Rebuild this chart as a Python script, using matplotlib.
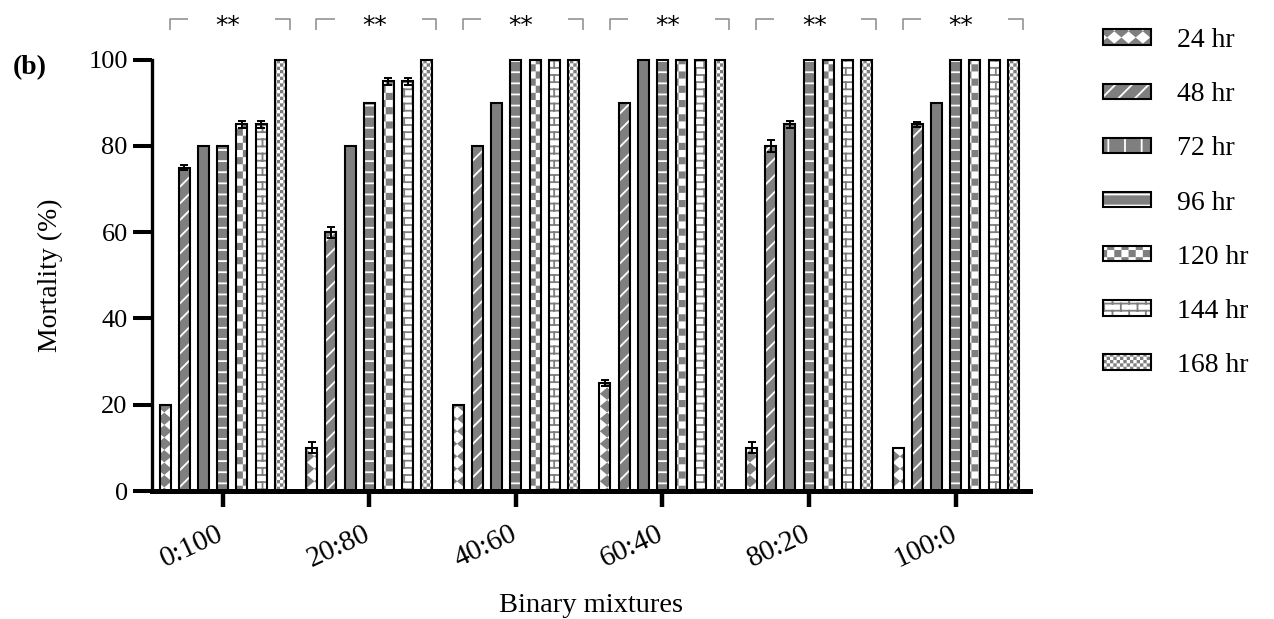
import warnings
import numpy as np
import matplotlib
matplotlib.use("Agg")
import matplotlib.pyplot as plt
from matplotlib import hatch as mhatch
from matplotlib.path import Path
from matplotlib.patches import Patch
from matplotlib.legend_handler import HandlerTuple
from matplotlib.transforms import ScaledTranslation

warnings.filterwarnings("ignore", message="hatch must consist")

# ---------------------------------------------------------------- data
groups = ["0:100", "20:80", "40:60", "60:40", "80:20", "100:0"]
times = ["24 hr", "48 hr", "72 hr", "96 hr", "120 hr", "144 hr", "168 hr"]

mort_24 = [20, 10, 20, 25, 10, 10]
mort_48 = [75, 60, 80, 90, 80, 85]
mort_72 = [80, 80, 90, 100, 85, 90]
mort_96 = [80, 90, 100, 100, 100, 100]
mort_120 = [85, 95, 100, 100, 100, 100]
mort_144 = [85, 95, 100, 100, 100, 100]
mort_168 = [100, 100, 100, 100, 100, 100]

err_24 = [0, 1.3, 0, 0.7, 1.3, 0]
err_48 = [0.5, 1.3, 0, 0, 1.3, 0.5]
err_72 = [0, 0, 0, 0, 0.8, 0]
err_96 = [0, 0, 0, 0, 0, 0]
err_120 = [0.8, 0.8, 0, 0, 0, 0]
err_144 = [0.8, 0.8, 0, 0, 0, 0]
err_168 = [0, 0, 0, 0, 0, 0]

significance = ["**", "**", "**", "**", "**", "**"]

series = [mort_24, mort_48, mort_72, mort_96, mort_120, mort_144, mort_168]
errors = [err_24, err_48, err_72, err_96, err_120, err_144, err_168]

# ---------------------------------------------------------------- fill patterns
DPI = 100
HATCH_LW = 1.3
plt.rcParams["hatch.linewidth"] = HATCH_LW
plt.rcParams["font.family"] = "Liberation Serif"
_INSET = HATCH_LW / 144.0  # half stroke width in hatch-tile units


class _ShapeHatch(mhatch.HatchPatternBase):
    key = ""

    def __init__(self, hatch, density):
        self.shapes = self.build() if (self.key and self.key in hatch) else []
        self.num_vertices = sum(len(p) for p, _ in self.shapes)

    def build(self):
        return []

    def set_vertices_and_codes(self, vertices, codes):
        i = 0
        for pts, closed in self.shapes:
            n = len(pts)
            vertices[i:i + n] = pts
            codes[i] = Path.MOVETO
            codes[i + 1:i + n] = Path.LINETO
            if closed:
                codes[i + n - 1] = Path.CLOSEPOLY
            i += n


class _Checker(_ShapeHatch):
    key = "c"
    n = 14

    def build(self):
        d, s = 1.0 / self.n, _INSET
        out = []
        for i in range(self.n):
            for j in range(self.n):
                if (i + j) % 2 == 0:
                    x0, y0 = i * d + s, j * d + s
                    x1, y1 = (i + 1) * d - s, (j + 1) * d - s
                    out.append(([(x0, y0), (x1, y0), (x1, y1), (x0, y1), (x0, y0)], True))
        return out


class _FineChecker(_Checker):
    key = "f"
    n = 30


class _Diamonds(_ShapeHatch):
    key = "d"
    nx, ny = 7, 8

    def build(self):
        hx = 0.5 / self.nx - 1.4 * _INSET
        hy = 0.5 / self.ny - 1.4 * _INSET
        out = []
        for i in range(self.nx):
            for j in range(self.ny):
                cx, cy = (i + 0.5) / self.nx, (j + 0.5) / self.ny
                out.append(([(cx - hx, cy), (cx, cy - hy), (cx + hx, cy),
                             (cx, cy + hy), (cx - hx, cy)], True))
        return out


class _Bricks(_ShapeHatch):
    key = "b"
    nx, ny = 6, 14

    def build(self):
        out = []
        for j in range(self.ny):
            y = (j + 0.5) / self.ny
            out.append(([(0.0, y), (1.0, y)], False))
            y_top = y + 1.0 / self.ny
            for i in range(self.nx):
                xv = (i + 0.25 + 0.5 * (j % 2)) / self.nx
                if y_top <= 1.0:
                    out.append(([(xv, y), (xv, y_top)], False))
                else:
                    out.append(([(xv, y), (xv, 1.0)], False))
                    out.append(([(xv, 0.0), (xv, y_top - 1.0)], False))
        return out


class _Rules(_ShapeHatch):
    key = "h"
    n = 9

    def build(self):
        return [([(0.0, (j + 0.5) / self.n), (1.0, (j + 0.5) / self.n)], False)
                for j in range(self.n)]


mhatch._hatch_types.extend([_Checker, _FineChecker, _Diamonds, _Bricks, _Rules])

GRAY = "#7f7f7f"
# (face colour, pattern colour, bar pattern, legend pattern)
styles = [
    ("white", GRAY, "d", "d"),
    (GRAY, "white", "//", "//"),
    (GRAY, "white", None, "|"),
    (GRAY, "white", "h", "h"),
    ("white", GRAY, "c", "c"),
    ("white", GRAY, "b", "b"),
    ("white", GRAY, "f", "f"),
]

# ---------------------------------------------------------------- figure
W, H = 1274, 619
fig = plt.figure(figsize=(W / DPI, H / DPI), dpi=DPI)
ax_left, ax_right, ax_top, ax_bottom = 152.3, 1030.0, 59.7, 491.0
ax = fig.add_axes([ax_left / W, 1 - ax_bottom / H,
                   (ax_right - ax_left) / W, (ax_bottom - ax_top) / H])

x = np.arange(len(groups))
pitch = 0.1308
width = 0.075
n_series = len(series)

for k, (vals, errs, st) in enumerate(zip(series, errors, styles)):
    fc, hc, hatch, _ = st
    xs = x + (k - (n_series - 1) / 2) * pitch
    vals = np.asarray(vals, dtype=float)
    errs = np.asarray(errs, dtype=float)
    ax.bar(xs, vals, width, color=fc, edgecolor=hc, hatch=hatch,
           linewidth=0, zorder=2, clip_on=False)
    ax.bar(xs, vals, width, facecolor="none", edgecolor="black",
           linewidth=1.5, zorder=2.5, clip_on=False)
    m = errs > 0
    if m.any():
        ax.errorbar(xs[m], vals[m], yerr=errs[m], fmt="none", ecolor="black",
                    elinewidth=1.4, capsize=2.6, capthick=1.4, zorder=3,
                    clip_on=False)

ax.set_xlim(-0.480, 5.507)
ax.set_ylim(0, 100)
ax.set_yticks([0, 20, 40, 60, 80, 100])

for side in ("top", "right"):
    ax.spines[side].set_visible(False)
ax.spines["left"].set_linewidth(2.4)
ax.spines["bottom"].set_linewidth(3.6)
ax.spines["left"].set_zorder(4)
ax.spines["bottom"].set_zorder(4)

ax.tick_params(axis="y", length=13.9, width=2.9, pad=3.8, labelsize=19)
ax.tick_params(axis="x", length=11.3, width=3.2, pad=10.0, labelsize=21)
ax.set_xticks(x, groups, rotation=25, ha="right", va="top",
              rotation_mode="anchor")
shift = ScaledTranslation(-6 / DPI, 0, fig.dpi_scale_trans)
for lab in ax.get_xticklabels():
    lab.set_transform(lab.get_transform() + shift)

ax.set_ylabel("Mortality (%)", fontsize=20)
ax.yaxis.set_label_coords((63 - ax_left) / (ax_right - ax_left), 0.5)
ax.set_xlabel("Binary mixtures", fontsize=20.5)
ax.xaxis.set_label_coords(0.5, (ax_bottom - 593) / (ax_bottom - ax_top))

# significance brackets above each group
for xc, sig in zip(x, significance):
    xl, xr = xc - 0.36, xc + 0.457
    ax.plot([xl, xl, xl + 0.123], [106.9, 109.4, 109.4], color="#8a8a8a",
            lw=1.1, clip_on=False, solid_capstyle="butt")
    ax.plot([xr - 0.10, xr, xr], [109.4, 109.4, 106.9], color="#8a8a8a",
            lw=1.1, clip_on=False, solid_capstyle="butt")
    ax.text(xc + 0.035, 106.25, sig, ha="center", va="baseline", fontsize=18,
            family="DejaVu Sans", clip_on=False)

fig.text(13 / W, 1 - 68 / H, "(b)", fontsize=20, fontweight="bold",
         ha="left", va="center")

# legend
handles = []
for fc, hc, _, leg_hatch in styles:
    handles.append((Patch(facecolor=fc, edgecolor=hc, hatch=leg_hatch, linewidth=0),
                    Patch(facecolor="none", edgecolor="black", linewidth=1.5)))
fig.legend(handles, times, loc="upper left",
           bbox_to_anchor=(1103 / W, 1 - 28 / H), frameon=False, fontsize=20,
           handlelength=1.73, handleheight=0.47, handletextpad=0.94,
           labelspacing=1.05, borderpad=0, borderaxespad=0,
           handler_map={tuple: HandlerTuple(ndivide=1, pad=0)})

fig.savefig("out.png", dpi=DPI)
